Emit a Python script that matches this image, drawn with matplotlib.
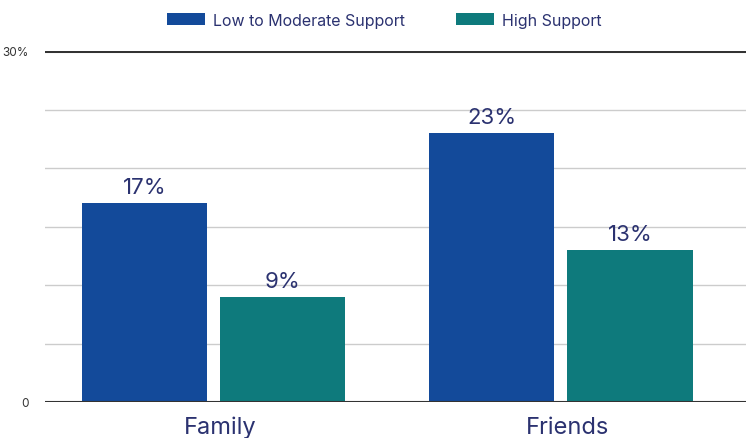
import matplotlib.pyplot as plt
import numpy as np
from matplotlib.patches import Patch

plt.rcParams['font.family'] = ['Inter', 'DejaVu Sans']

categories = ['Family', 'Friends']
low_moderate = [17, 23]
high = [9, 13]
series_names = ['Low to Moderate Support', 'High Support']
colors = ['#134A9A', '#0E7A7C']
text_col = '#2B3270'

fig = plt.figure(figsize=(7.46, 4.39), dpi=100)
ax = fig.add_axes([45/746, 36/439, 701/746, 351/439])

x = np.arange(len(categories))
w = 0.36
off = 0.199
b1 = ax.bar(x - off, low_moderate, w, color=colors[0], zorder=3)
b2 = ax.bar(x + off, high, w, color=colors[1], zorder=3)

for bars, vals in [(b1, low_moderate), (b2, high)]:
    for r, v in zip(bars, vals):
        ax.text(r.get_x() + r.get_width()/2, v + 0.5, f'{v}%', ha='center', va='bottom',
                fontsize=16, color=text_col)

for g in [5, 10, 15, 20, 25]:
    ax.axhline(g, color='#CCCCCC', lw=1, zorder=1)
ax.axhline(30, color='#333333', lw=2.2, zorder=2)
ax.axhline(0, color='#333333', lw=1.5, zorder=4)

ax.set_xlim(-0.485, 1.533)
ax.set_ylim(0, 30)
ax.set_yticks([0, 30])
ax.set_yticklabels(['0', '30%'], fontsize=8.5, color='#333333')
ax.set_xticks(x + 0.02)
ax.set_xticklabels(categories, fontsize=17, color=text_col)
ax.tick_params(axis='both', length=0)
ax.tick_params(axis='y', pad=12)
ax.tick_params(axis='x', pad=10)
for s in ax.spines.values():
    s.set_visible(False)

handles = [Patch(facecolor=c) for c in colors]
fig.legend(handles, series_names, loc='center', bbox_to_anchor=(0.515, 0.952), ncol=2,
           frameon=False, fontsize=11.5, labelcolor=text_col, handlelength=2.4,
           handleheight=0.8, columnspacing=3.2, handletextpad=0.5)

fig.savefig('out.png', dpi=100)
